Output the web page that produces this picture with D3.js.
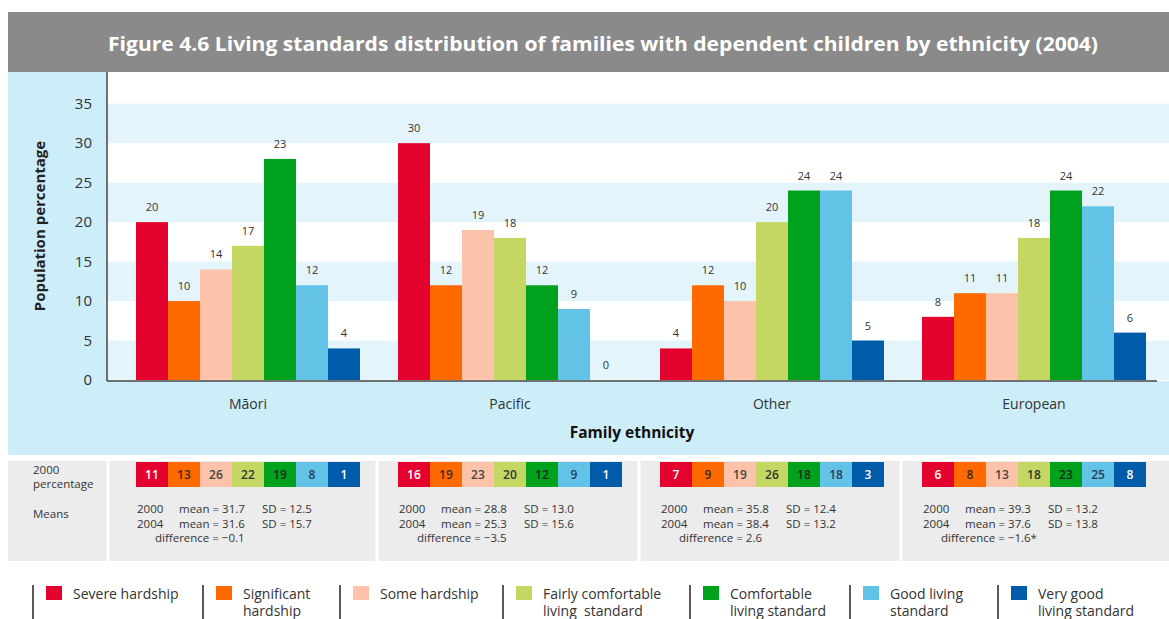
<!DOCTYPE html>
<html><head><meta charset="utf-8">
<script src="https://cdn.jsdelivr.net/npm/d3@7"></script>
<style>
html,body{margin:0;padding:0;background:#fff;}
svg{display:block;font-family:"Open Sans",sans-serif;}
</style></head>
<body><svg id="c" width="1169" height="619"></svg>
<script>
const title = "Figure 4.6 Living standards distribution of families with dependent children by ethnicity (2004)";
const groups = ["Māori", "Pacific", "Other", "European"];
const categories = ["Severe hardship", "Significant hardship", "Some hardship", "Fairly comfortable living standard", "Comfortable living standard", "Good living standard", "Very good living standard"];
const legendLines = [["Severe hardship"], ["Significant", "hardship"], ["Some hardship"], ["Fairly comfortable", "living  standard"], ["Comfortable", "living standard"], ["Good living", "standard"], ["Very good", "living standard"]];
const colors = ["#e4032e", "#ff6a00", "#fdc3aa", "#c4d762", "#00a11c", "#63c3e7", "#005ca9"];
// 2004 bar heights (as drawn) and printed labels
const maori2004 = [20, 10, 14, 17, 28, 12, 4];
const pacific2004 = [30, 12, 19, 18, 12, 9, 0];
const other2004 = [4, 12, 10, 20, 24, 24, 5];
const european2004 = [8, 11, 11, 18, 24, 22, 6];
const maoriLabels = [20, 10, 14, 17, 23, 12, 4];
const pacificLabels = [30, 12, 19, 18, 12, 9, 0];
const otherLabels = [4, 12, 10, 20, 24, 24, 5];
const europeanLabels = [8, 11, 11, 18, 24, 22, 6];
// 2000 percentages
const maori2000 = [11, 13, 26, 22, 19, 8, 1];
const pacific2000 = [16, 19, 23, 20, 12, 9, 1];
const other2000 = [7, 9, 19, 26, 18, 18, 3];
const european2000 = [6, 8, 13, 18, 23, 25, 8];
// means
const mean2000 = [31.7, 28.8, 35.8, 39.3];
const sd2000 = [12.5, 13.0, 12.4, 13.2];
const mean2004 = [31.6, 25.3, 38.4, 37.6];
const sd2004 = [15.7, 15.6, 13.2, 13.8];
const differences = ["−0.1", "−3.5", "2.6", "−1.6*"];
const yTicks = [0, 5, 10, 15, 20, 25, 30, 35];

const bars = [maori2004, pacific2004, other2004, european2004];
const barLabels = [maoriLabels, pacificLabels, otherLabels, europeanLabels];
const table2000 = [maori2000, pacific2000, other2000, european2000];
const textOnColor = ["#fff", "#3a2a20", "#444", "#333", "#1a2a1a", "#2a3a55", "#fff"];

const svg = d3.select("#c");
const W = 1169;
const txt = "#333";

// title banner
svg.append("rect").attr("x", 8).attr("y", 12).attr("width", W - 8).attr("height", 60).attr("fill", "#8a8a8b");
svg.append("text").attr("x", 603).attr("y", 51).attr("text-anchor", "middle")
  .attr("fill", "#fff").attr("font-weight", "bold").attr("font-size", 19)
  .attr("textLength", 990).attr("lengthAdjust", "spacingAndGlyphs").text(title);

// light blue panel
svg.append("rect").attr("x", 8).attr("y", 72).attr("width", W - 8).attr("height", 383).attr("fill", "#cdedf9");

const x0 = d3.scaleBand().domain(groups).range([117, 1165]).paddingInner(0.145).paddingOuter(0.0725);
const x1 = d3.scaleBand().domain(categories).range([0, x0.bandwidth()]);
const y = d3.scaleLinear().domain([0, 38]).range([380, 80]);

// plot background
svg.append("rect").attr("x", 107).attr("y", 72).attr("width", W - 107).attr("height", 309).attr("fill", "#fff");
const stripes = [[0, 5], [10, 15], [20, 25], [30, 35]];
svg.selectAll(".stripe").data(stripes).join("rect")
  .attr("x", 107).attr("width", W - 107)
  .attr("y", d => y(d[1])).attr("height", d => y(d[0]) - y(d[1]))
  .attr("fill", "#e4f4fb");

// y axis
const yAxis = svg.append("g").attr("transform", "translate(107,0)")
  .call(d3.axisLeft(y).tickValues(yTicks).tickSize(0).tickPadding(15));
yAxis.select(".domain").remove();
yAxis.selectAll("text").attr("font-size", 15).attr("fill", txt).attr("font-family", "Open Sans");
svg.append("line").attr("x1", 107).attr("x2", 107).attr("y1", 72).attr("y2", 381).attr("stroke", "#444").attr("stroke-width", 1.5);

svg.append("text").attr("transform", "translate(45,226) rotate(-90)").attr("text-anchor", "middle")
  .attr("font-weight", "bold").attr("font-size", 15).attr("fill", "#222").text("Population percentage");

// bars
const gGroups = svg.selectAll(".grp").data(groups).join("g")
  .attr("transform", d => `translate(${x0(d)},0)`);
gGroups.each(function (g, gi) {
  const sel = d3.select(this);
  sel.selectAll("rect").data(bars[gi]).join("rect")
    .attr("x", (d, i) => x1(categories[i]))
    .attr("width", x1.bandwidth())
    .attr("y", d => y(d)).attr("height", d => y(0) - y(d))
    .attr("fill", (d, i) => colors[i]);
  sel.selectAll("text").data(bars[gi]).join("text")
    .attr("x", (d, i) => x1(categories[i]) + x1.bandwidth() / 2)
    .attr("y", d => y(d) - 11)
    .attr("text-anchor", "middle").attr("font-size", 11).attr("fill", txt)
    .text((d, i) => barLabels[gi][i]);
});

// x axis
svg.append("line").attr("x1", 107).attr("x2", 1157).attr("y1", 381).attr("y2", 381).attr("stroke", "#444").attr("stroke-width", 1.5);
const xAxis = svg.append("g").attr("transform", "translate(0,381)")
  .call(d3.axisBottom(x0).tickSize(0).tickPadding(18));
xAxis.select(".domain").remove();
xAxis.selectAll("text").attr("font-size", 14).attr("fill", txt).attr("font-family", "Open Sans");
svg.append("text").attr("x", 632).attr("y", 438).attr("text-anchor", "middle")
  .attr("font-weight", "bold").attr("font-size", 15.5).attr("fill", "#111").text("Family ethnicity");

// table
svg.append("rect").attr("x", 8).attr("y", 461).attr("width", W - 8).attr("height", 100).attr("fill", "#ececec");
const dividers = [108, 377, 639, 901];
svg.selectAll(".div").data(dividers).join("line")
  .attr("x1", d => d).attr("x2", d => d).attr("y1", 461).attr("y2", 561)
  .attr("stroke", "#fff").attr("stroke-width", 3);
svg.append("text").attr("x", 33).attr("y", 474).attr("font-size", 11.5).attr("fill", txt).text("2000");
svg.append("text").attr("x", 33).attr("y", 488).attr("font-size", 11.5).attr("fill", txt).text("percentage");
svg.append("text").attr("x", 33).attr("y", 518).attr("font-size", 11.5).attr("fill", txt).text("Means");

const tG = svg.selectAll(".tg").data(groups).join("g")
  .attr("transform", d => `translate(${x0(d)},0)`);
tG.each(function (g, gi) {
  const sel = d3.select(this);
  sel.selectAll("rect").data(table2000[gi]).join("rect")
    .attr("x", (d, i) => x1(categories[i]))
    .attr("width", x1.bandwidth()).attr("y", 462).attr("height", 25)
    .attr("fill", (d, i) => colors[i]);
  sel.selectAll("text.v").data(table2000[gi]).join("text").attr("class", "v")
    .attr("x", (d, i) => x1(categories[i]) + x1.bandwidth() / 2)
    .attr("y", 479).attr("text-anchor", "middle").attr("font-size", 12).attr("font-weight", 600)
    .attr("fill", (d, i) => textOnColor[i]).text(d => d);
  const rows = [
    ["2000", "mean = " + mean2000[gi].toFixed(1), "SD = " + sd2000[gi].toFixed(1)],
    ["2004", "mean = " + mean2004[gi].toFixed(1), "SD = " + sd2004[gi].toFixed(1)]
  ];
  rows.forEach((r, ri) => {
    const yy = 513 + ri * 14.5;
    sel.append("text").attr("x", 1).attr("y", yy).attr("font-size", 11.5).attr("fill", txt).text(r[0]);
    sel.append("text").attr("x", 43).attr("y", yy).attr("font-size", 11.5).attr("fill", txt).text(r[1]);
    sel.append("text").attr("x", 126).attr("y", yy).attr("font-size", 11.5).attr("fill", txt).text(r[2]);
  });
  sel.append("text").attr("x", 19).attr("y", 542).attr("font-size", 11.5).attr("fill", txt)
    .text("difference = " + differences[gi]);
});

// legend
const legendX = [33, 203, 340, 503, 690, 850, 998];
const lg = svg.selectAll(".lg").data(categories).join("g")
  .attr("transform", (d, i) => `translate(${legendX[i]},0)`);
lg.append("line").attr("x1", 0).attr("x2", 0).attr("y1", 585).attr("y2", 619).attr("stroke", "#222").attr("stroke-width", 1.5);
lg.append("rect").attr("x", 13).attr("y", 586).attr("width", 16).attr("height", 14).attr("fill", (d, i) => colors[i]);
lg.each(function (d, i) {
  const t = d3.select(this).append("text").attr("x", 40).attr("y", 599).attr("font-size", 14).attr("fill", txt);
  legendLines[i].forEach((ln, li) => {
    t.append("tspan").attr("x", 40).attr("dy", li === 0 ? 0 : 17).attr("xml:space", "preserve").text(ln);
  });
});
</script></body></html>
